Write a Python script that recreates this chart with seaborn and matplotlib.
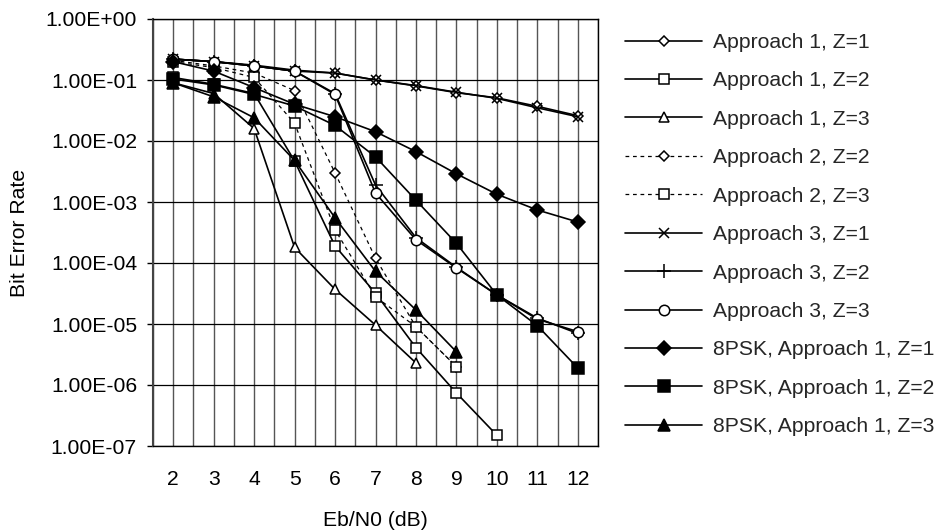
import matplotlib
matplotlib.use("Agg")
import matplotlib.pyplot as plt
import seaborn as sns
import numpy as np
import pandas as pd
from matplotlib.ticker import FixedLocator, MultipleLocator, NullLocator, FixedFormatter

sns.set_theme(style="white")
plt.rcParams['font.family'] = ['Liberation Sans', 'DejaVu Sans']

# ---------------- data ----------------
x_ticks = [2, 3, 4, 5, 6, 7, 8, 9, 10, 11, 12]
y_ticks = [1e0, 1e-1, 1e-2, 1e-3, 1e-4, 1e-5, 1e-6, 1e-7]
y_tick_labels = ["1.00E+00", "1.00E-01", "1.00E-02", "1.00E-03",
                 "1.00E-04", "1.00E-05", "1.00E-06", "1.00E-07"]

series_names = ["Approach 1, Z=1", "Approach 1, Z=2", "Approach 1, Z=3",
                "Approach 2, Z=2", "Approach 2, Z=3",
                "Approach 3, Z=1", "Approach 3, Z=2", "Approach 3, Z=3",
                "8PSK, Approach 1, Z=1", "8PSK, Approach 1, Z=2", "8PSK, Approach 1, Z=3"]

a1z1_x = [2, 3, 4, 5, 6, 7, 8, 9, 10, 11, 12]
a1z1_y = [0.22, 0.20, 0.175, 0.145, 0.13, 0.10, 0.080, 0.062, 0.051, 0.037, 0.026]
a1z2_x = [2, 3, 4, 5, 6, 7, 8, 9, 10]
a1z2_y = [0.11, 0.085, 0.06, 0.0047, 1.9e-4, 3.2e-5, 4.1e-6, 7.4e-7, 1.5e-7]
a1z3_x = [2, 3, 4, 5, 6, 7, 8]
a1z3_y = [0.09, 0.06, 0.016, 1.8e-4, 3.7e-5, 9.6e-6, 2.3e-6]
a2z2_x = [2, 3, 4, 5, 6, 7, 8, 9]
a2z2_y = [0.21, 0.17, 0.13, 0.067, 0.003, 1.2e-4, 9e-6, 2e-6]
a2z3_x = [2, 3, 4, 5, 6, 7, 8, 9]
a2z3_y = [0.20, 0.16, 0.11, 0.0196, 3.5e-4, 2.8e-5, 9e-6, 2e-6]
a3z1_x = [2, 3, 4, 5, 6, 7, 8, 9, 10, 11, 12]
a3z1_y = [0.22, 0.20, 0.17, 0.14, 0.13, 0.10, 0.081, 0.063, 0.050, 0.035, 0.025]
a3z2_x = [2, 3, 4, 5, 6, 7, 8, 9, 10, 11, 12]
a3z2_y = [0.22, 0.20, 0.17, 0.14, 0.06, 0.0019, 2.6e-4, 8.5e-5, 3.0e-5, 1.25e-5, 7e-6]
a3z3_x = [2, 3, 4, 5, 6, 7, 8, 9, 10, 11, 12]
a3z3_y = [0.22, 0.20, 0.17, 0.14, 0.058, 0.0014, 2.4e-4, 8.3e-5, 3.0e-5, 1.2e-5, 7.5e-6]
p1_x = [2, 3, 4, 5, 6, 7, 8, 9, 10, 11, 12]
p1_y = [0.20, 0.14, 0.075, 0.040, 0.025, 0.0142, 0.0067, 0.0029, 0.00134, 0.00074, 0.00047]
p2_x = [2, 3, 4, 5, 6, 7, 8, 9, 10, 11, 12]
p2_y = [0.104, 0.083, 0.058, 0.0375, 0.018, 0.0055, 0.00107, 0.00021, 3.0e-5, 9.4e-6, 1.9e-6]
p3_x = [2, 3, 4, 5, 6, 7, 8, 9]
p3_y = [0.09, 0.053, 0.024, 0.0048, 5.5e-4, 7.3e-5, 1.7e-5, 3.5e-6]

all_x = [a1z1_x, a1z2_x, a1z3_x, a2z2_x, a2z3_x, a3z1_x, a3z2_x, a3z3_x, p1_x, p2_x, p3_x]
all_y = [a1z1_y, a1z2_y, a1z3_y, a2z2_y, a2z3_y, a3z1_y, a3z2_y, a3z3_y, p1_y, p2_y, p3_y]

# ---------------- styles ----------------
styles = {
    "Approach 1, Z=1": dict(marker="D", ms=5.5, mfc="white", ls="-", lw=1.2),
    "Approach 1, Z=2": dict(marker="s", ms=7, mfc="white", ls="-", lw=1.2),
    "Approach 1, Z=3": dict(marker="^", ms=7.5, mfc="white", ls="-", lw=1.2),
    "Approach 2, Z=2": dict(marker="D", ms=5.5, mfc="white", ls=(0, (3, 3)), lw=0.9),
    "Approach 2, Z=3": dict(marker="s", ms=7, mfc="white", ls=(0, (3, 3)), lw=0.9),
    "Approach 3, Z=1": dict(marker="x", ms=7.5, mfc="black", ls="-", lw=1.2),
    "Approach 3, Z=2": dict(marker="+", ms=10, mfc="black", ls="-", lw=1.2),
    "Approach 3, Z=3": dict(marker="o", ms=7.5, mfc="white", ls="-", lw=1.2),
    "8PSK, Approach 1, Z=1": dict(marker="D", ms=7.5, mfc="black", ls="-", lw=1.2),
    "8PSK, Approach 1, Z=2": dict(marker="s", ms=8.5, mfc="black", ls="-", lw=1.2),
    "8PSK, Approach 1, Z=3": dict(marker="^", ms=9, mfc="black", ls="-", lw=1.2),
}

fig = plt.figure(figsize=(9.45, 5.3), dpi=100)
ax = fig.add_axes([153 / 945, 1 - 446 / 530, (598 - 153) / 945, (446 - 19) / 530])
ax.set_yscale("log")

for name, xs, ys in zip(series_names, all_x, all_y):
    st = styles[name]
    df = pd.DataFrame({"x": xs, "y": ys})
    sns.lineplot(data=df, x="x", y="y", ax=ax, color="black",
                 marker=st["marker"], markersize=st["ms"],
                 markerfacecolor=st["mfc"], markeredgecolor="black",
                 markeredgewidth=1.1, linestyle=st["ls"], linewidth=st["lw"],
                 label=name, zorder=3)

ax.set_xlim(1.5, 12.5)
ax.set_ylim(1e-7, 1e0)

ax.xaxis.set_major_locator(FixedLocator(x_ticks))
ax.xaxis.set_minor_locator(MultipleLocator(0.5))
ax.set_xticklabels([str(v) for v in x_ticks])
ax.yaxis.set_major_locator(FixedLocator(y_ticks))
ax.yaxis.set_major_formatter(FixedFormatter(y_tick_labels))
ax.yaxis.set_minor_locator(NullLocator())

ax.grid(True, which="both", axis="x", color="#555555", linewidth=1.0)
ax.grid(True, which="major", axis="y", color="black", linewidth=0.9)
ax.set_axisbelow(True)

for s in ax.spines.values():
    s.set_color("black")
    s.set_linewidth(1.0)
ax.spines["left"].set_color("#444444")
ax.spines["left"].set_linewidth(1.5)

fs = 15.2
ax.tick_params(axis="x", which="both", length=0, pad=17, labelsize=fs, colors="black")
ax.tick_params(axis="y", which="major", length=4.5, width=1, pad=7, labelsize=fs,
               colors="black", left=True, direction="out")

ax.set_xlabel("Eb/N0 (dB)", fontsize=fs, labelpad=16, color="black")
ax.set_ylabel("Bit Error Rate", fontsize=fs, labelpad=12, color="black")

handles, labels = ax.get_legend_handles_labels()
leg = ax.legend(handles, labels, loc="upper left",
                bbox_to_anchor=(625 / 945, 1 - 33 / 530),
                bbox_transform=fig.transFigure, frameon=False,
                fontsize=fs, handlelength=3.65, handletextpad=0.5,
                labelspacing=0.92, borderpad=0, borderaxespad=0)

fig.savefig("out.png", dpi=100)
